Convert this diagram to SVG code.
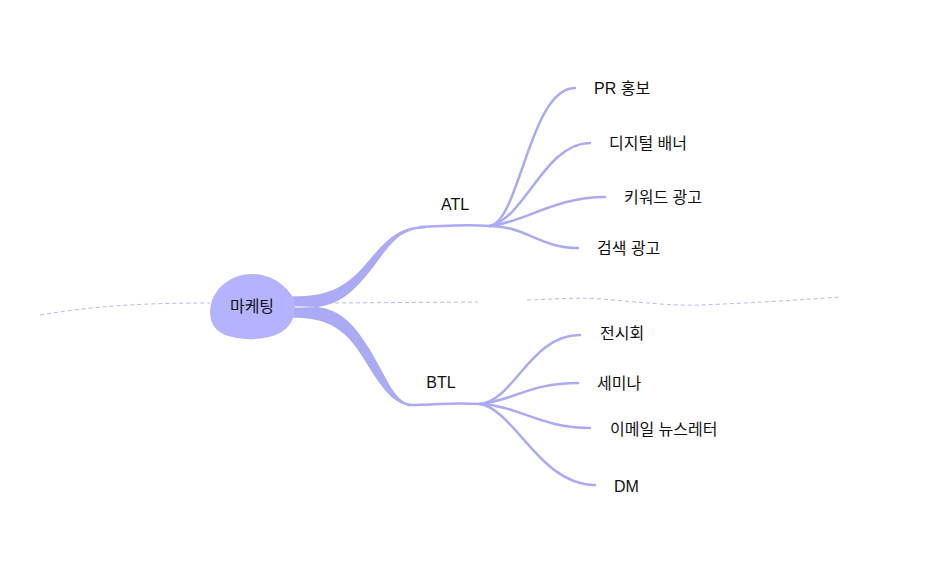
<svg xmlns="http://www.w3.org/2000/svg" width="950" height="574" viewBox="0 0 950 574">
<style>
.t{font-family:"Liberation Sans","Noto Sans CJK KR",sans-serif;font-size:16px;fill:#111;dominant-baseline:central}
.b{fill:none;stroke:#aaaaf5;stroke-width:2.5;stroke-linecap:round}
.d{fill:none;stroke:#b8b8f0;stroke-width:1;stroke-dasharray:4 3}
.f{fill:#aaaaf5}
</style>
<rect width="950" height="574" fill="#fff"/>
<g id="connectors">
<path class="d" d="M40 315 C 100 305, 150 303, 210 303"/>
<path class="d" d="M335 303 L 478 302"/>
<path class="d" d="M527 300 C 560 299, 575 297, 600 299 C 640 302, 670 306, 700 305 C 750 303, 800 300, 840 297"/>
<path class="f" d="M282 296 C 320 298, 342 292, 365 265 C 388 238, 398 227, 425 226 L 425 228.5 C 402 229, 393 240, 374 266 C 352 295, 338 304, 318 307 L 284 306 Z"/>
<path class="f" d="M284 308 L 318 307 C 338 310, 352 320, 370 350 C 388 380, 395 403, 412 404 L 412 406 C 392 405, 380 385, 362 356 C 342 324, 322 316, 282 318 Z"/>
<path class="b" d="M420 227 C 450 226, 460 224, 490 226"/>
<path class="b" d="M408 405 C 440 405, 450 402, 480 404"/>
<path class="b" d="M490 226 C 520 220, 530 88, 575 88"/>
<path class="b" d="M490 226 C 525 218, 545 143, 590 143"/>
<path class="b" d="M490 226 C 525 222, 555 197, 605 197"/>
<path class="b" d="M490 226 C 525 226, 540 248, 578 248"/>
<path class="b" d="M480 404 C 515 400, 530 335, 580 335"/>
<path class="b" d="M480 404 C 515 400, 530 383, 578 383"/>
<path class="b" d="M480 404 C 520 406, 540 428, 590 428"/>
<path class="b" d="M480 404 C 515 410, 540 485, 595 485"/>
</g>
<g id="center">
<path fill="#b3b3ff" d="M252 274 C 275 274, 290 290, 294 300 C 298 312, 292 326, 280 333 C 266 340, 245 341, 228 336 C 212 331, 208 318, 211 304 C 215 287, 232 274, 252 274 Z"/>
<text class="t" x="252" y="306" text-anchor="middle">마케팅</text>
</g>
<g id="atl"><text class="t" x="455" y="204" text-anchor="middle">ATL</text></g>
<g id="btl"><text class="t" x="441" y="382" text-anchor="middle">BTL</text></g>
<g id="n-pr"><text class="t" x="594" y="88">PR 홍보</text></g>
<g id="n-banner"><text class="t" x="609" y="143">디지털 배너</text></g>
<g id="n-keyword"><text class="t" x="624" y="197">키워드 광고</text></g>
<g id="n-search"><text class="t" x="597" y="248">검색 광고</text></g>
<g id="n-expo"><text class="t" x="600" y="333">전시회</text></g>
<g id="n-seminar"><text class="t" x="597" y="383">세미나</text></g>
<g id="n-email"><text class="t" x="610" y="429">이메일 뉴스레터</text></g>
<g id="n-dm"><text class="t" x="614" y="486">DM</text></g>
</svg>
